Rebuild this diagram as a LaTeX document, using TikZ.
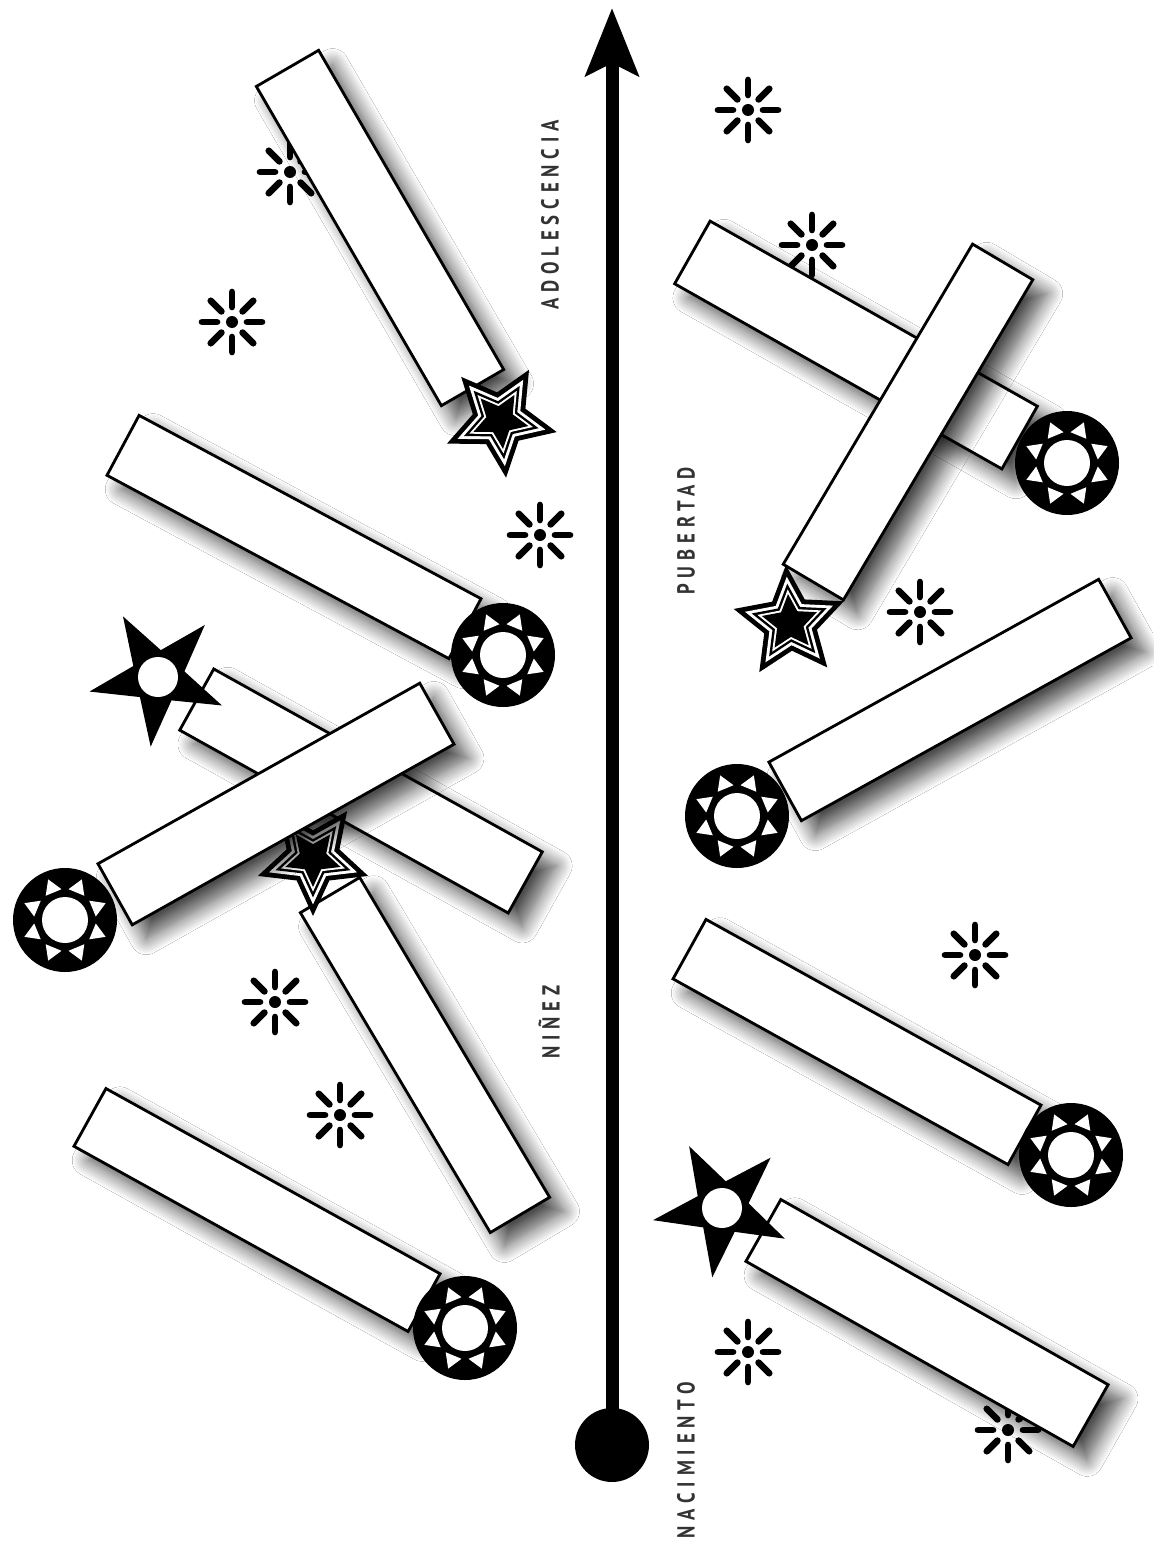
\documentclass[tikz,border=0pt]{standalone}
\usepackage{fontspec}
\newfontfamily\etapafont{PT Sans}[FakeStretch=0.76,LetterSpace=24]
\usetikzlibrary{arrows.meta,shadows.blur}
\tikzset{
   barra/.style={draw=black, fill=white, line width=1.6pt,
                 blur shadow={shadow xshift=8pt, shadow yshift=-8pt, shadow blur radius=9pt,
                 shadow blur steps=14, shadow opacity=70}},
   etapa/.style={font=\etapafont\bfseries\fontsize{14}{14}\selectfont, text=black!80,
                 rotate=90, inner sep=0pt},
   pics/anillo/.style={code={
      \fill[black] (0,0) circle (52);
      \fill[white] (0,0) circle (23);
      \foreach \a in {22.5,67.5,...,337.5}
         \fill[white] (\a:44) -- ({\a+16}:31) -- ({\a-16}:31) -- cycle;
   }},
   pics/estrella/.style={code={
      \fill[black] ({#1}:70) \foreach \k in {1,...,9}{ -- ({#1+36*\k}:{ifthenelse(mod(\k,2)==1,27,70)}) } -- cycle;
      \fill[white] (0,0) circle (20);
   }},
   pics/estrelladoble/.style={code={
      \foreach \f/\c in {1/black,0.8/white,0.68/black,0.58/white,0.5/black}
         \fill[\c] ({#1}:{58*\f}) \foreach \k in {1,...,9}{ -- ({#1+36*\k}:{ifthenelse(mod(\k,2)==1,27.8,58)*\f}) } -- cycle;
   }},
   pics/chispa/.style={code={
      \foreach \a in {0,45,...,315}
         \draw[line width=3.8pt, line cap=round] (\a:15) -- (\a:30);
      \fill (0,0) circle (6);
   }}
}
\newcommand{\barra}[5]{\path[barra, rotate around={#3:(#1,#2)}] ({#1-#4/2},{#2-#5/2}) rectangle ({#1+#4/2},{#2+#5/2});}

\begin{document}
\begin{tikzpicture}[x=0.02cm, y=-0.02cm]
\path[use as bounding box, fill=white] (0,0) rectangle (1153,1551);

\pic at (748,110) {chispa};
\pic at (290,172) {chispa};
\pic at (232,322) {chispa};
\pic at (540,535) {chispa};
\pic at (812,245) {chispa};
\pic at (920,612) {chispa};
\pic at (975,955) {chispa};
\pic at (275,1002) {chispa};
\pic at (340,1115) {chispa};
\pic at (748,1352) {chispa};
\pic at (1008,1430) {chispa};

\node[circle, fill=black, minimum size=1.48cm, inner sep=0pt] (nacimiento) at (612,1445) {};
\coordinate (cima) at (612,8);
\draw[line width=7.4pt, -{Stealth[length=1.35cm, width=1.05cm, inset=0.25cm]}] (nacimiento.center) -- (cima);

\node[etapa] (adolescencia) at (550,215) {ADOLESCENCIA};
\node[etapa] (pubertad) at (686,531) {PUBERTAD};
\node[etapa] (ninez) at (549,1022) {NIÑEZ};
\node[etapa] (nacimientotxt) at (686,1460) {NACIMIENTO};

\barra{380}{228}{-59.9}{369}{72}
\pic at (500,420) {estrelladoble=12};
\barra{294}{537}{-28.2}{388}{68}
\pic at (503,655) {anillo};
\barra{361}{791}{-29.1}{376}{70}
\pic at (158,677) {estrella=24};
\barra{425}{1055}{-59.3}{372}{69}
\pic at (313,858) {estrelladoble=18};
\barra{276}{804}{29.3}{369}{70}
\pic at (65,920) {anillo};
\barra{257}{1210}{-29}{382}{66}
\pic at (465,1328) {anillo};

\barra{856}{345}{-29.5}{376}{72}
\barra{908}{422}{59.4}{372}{70}
\pic at (1067,463) {anillo};
\pic at (790,623) {estrelladoble=50};
\barra{950}{700}{29}{377}{67}
\pic at (737,816) {anillo};
\barra{857}{1042}{-29}{383}{68}
\pic at (1071,1155) {anillo};
\barra{927}{1323}{-29.5}{376}{71}
\pic at (722,1208) {estrella=26};
\end{tikzpicture}
\end{document}
